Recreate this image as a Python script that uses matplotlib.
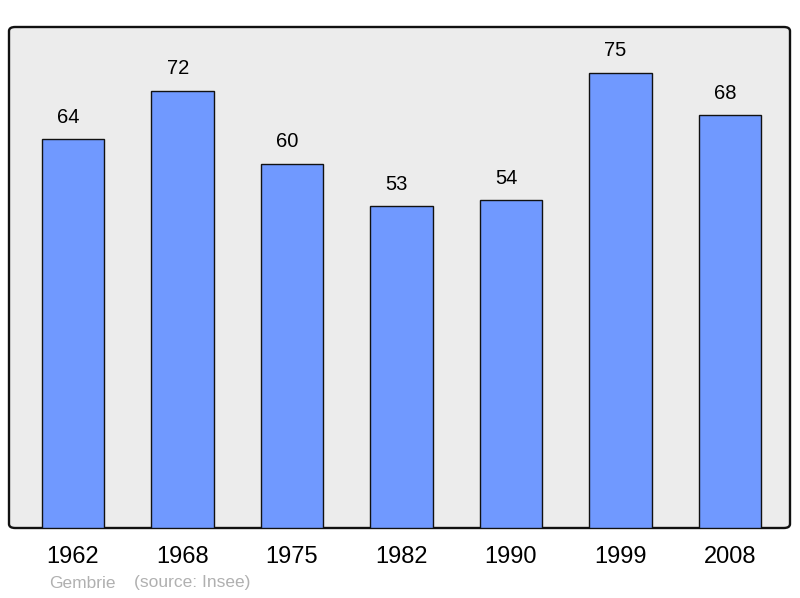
import matplotlib.pyplot as plt
from matplotlib.patches import FancyBboxPatch

years = ["1962", "1968", "1975", "1982", "1990", "1999", "2008"]
population = [64, 72, 60, 53, 54, 75, 68]

plt.rcParams["font.family"] = ["Liberation Sans", "DejaVu Sans"]

fig = plt.figure(figsize=(8, 5.98), dpi=100)
ax = fig.add_axes([9 / 800, 70 / 598, 781 / 800, 501 / 598])
ax.set_facecolor("none")
for spine in ax.spines.values():
    spine.set_visible(False)

frame = FancyBboxPatch((0, 0), 1, 1, boxstyle="round,pad=0,rounding_size=0.008",
                       transform=ax.transAxes, facecolor="#ececec",
                       edgecolor="#111111", linewidth=1.7, zorder=0, clip_on=False)
ax.add_patch(frame)

x = list(range(len(years)))
ax.bar(x, population, width=0.57, color="#7099ff", edgecolor="#111111",
       linewidth=1.0, zorder=2)
for xi, v in zip(x, population):
    ax.annotate(str(v), (xi, v), xytext=(-3.5, 9), textcoords="offset points",
                ha="center", va="bottom", fontsize=14.5)

ax.set_xlim(-0.585, 6.55)
ax.set_ylim(0, 82.5)
ax.set_yticks([])
ax.set_xticks(x)
ax.set_xticklabels(years, fontsize=17)
ax.tick_params(axis="x", length=0, pad=13)

fig.text(49 / 800, 1 - 583 / 598, "Gembrie", color="#b0b0b0", fontsize=12.5, va="center")
fig.text(134 / 800, 1 - 583 / 598, "(source: Insee)", color="#b0b0b0", fontsize=12.5, va="center")

fig.savefig("out.png", dpi=100)
